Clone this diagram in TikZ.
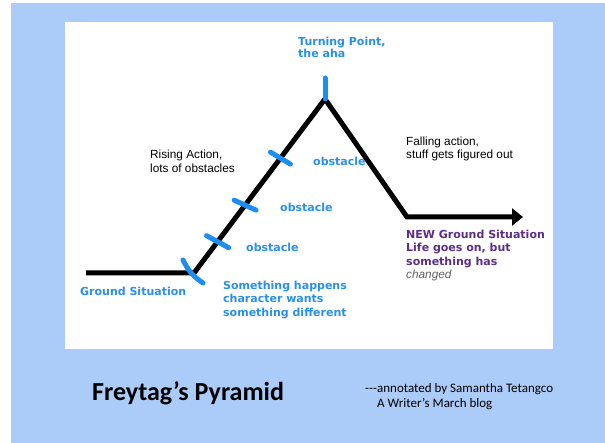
\documentclass[tikz,border=0pt]{standalone}
\usepackage{fontspec}
\setmainfont{Liberation Sans}
\newfontfamily\annofont{DejaVu Sans}
\newfontfamily\titlefont{Carlito}
\usetikzlibrary{arrows.meta}
\definecolor{panelblue}{HTML}{ABCBF8}
\definecolor{tickblue}{HTML}{1C8EF2}
\definecolor{labelblue}{HTML}{2A90E6}
\definecolor{newpurple}{HTML}{5C2E86}
\definecolor{changedgray}{HTML}{606060}

\begin{document}
\begin{tikzpicture}[
        x=1pt, y=-1pt,
        plot/.style={line width=5pt, line join=miter},
        tick/.style={line width=5pt, draw=tickblue, line cap=round},
        bluelabel/.style={font=\annofont\bfseries\fontsize{11}{13.5}\selectfont, text=labelblue, anchor=north west, inner sep=0pt, align=left},
        note/.style={font=\fontsize{11.8}{13}\selectfont, anchor=north west, inner sep=0pt, align=left}
    ]
        % background panels
        \fill[white] (0,0) rectangle (605,443);
        \useasboundingbox (0,0) rectangle (605,443);
        \fill[panelblue] (11,3) rectangle (605,443);
        \fill[white] (65,22) rectangle (553,349);

        % the pyramid
        \coordinate (start) at (86,273);
        \coordinate (base) at (194,273);
        \coordinate (peak) at (325,99);
        \coordinate (drop) at (407,217);
        \coordinate (end) at (523,217);
        \draw[plot, -{Triangle[length=11pt,width=17pt]}] (start) -- (base) -- (peak) -- (drop) -- (end);

        \path (base) -- (peak)
            coordinate[pos=0.18] (ob1)
            coordinate[pos=0.39] (ob2)
            coordinate[pos=0.66] (ob3);

        % blue marks
        \draw[tick] ([shift={(-11,-13)}]base) to[bend right=15] ([shift={(9,10)}]base);
        \draw[tick] ([shift={(-11,-6)}]ob1) -- ([shift={(11,6)}]ob1);
        \draw[tick] ([shift={(-11,-5)}]ob2) -- ([shift={(11,5)}]ob2);
        \draw[tick] ([shift={(-10,-6)}]ob3) -- ([shift={(10,6)}]ob3);
        \draw[tick] ([shift={(0,-21)}]peak) -- (peak);

        % labels
        \node (turning) [bluelabel, font=\annofont\bfseries\fontsize{11}{12}\selectfont] at (298,37) {Turning Point,\\the aha};
        \node (rising) [note, font=\fontsize{11.8}{14}\selectfont] at (150,150) {Rising Action,\\lots of obstacles};
        \node (falling) [note, font=\fontsize{11.8}{12.5}\selectfont] at (406,137) {Falling action,\\stuff gets figured out};
        \node (obs3) [bluelabel] at (313,156.5) {obstacle};
        \node (obs2) [bluelabel] at (280,202.5) {obstacle};
        \node (obs1) [bluelabel] at (246,242.5) {obstacle};
        \node (ground) [bluelabel] at (80,286.5) {Ground Situation};
        \node (happens) [bluelabel] at (223,280.5) {Something happens\\character wants\\something different};
        \node (newground) [bluelabel, text=newpurple] at (406,229.5)
            {NEW Ground Situation\\Life goes on, but\\something has\\{\normalfont\itshape\fontsize{11.8}{13.5}\selectfont\color{changedgray}changed}};

        % caption
        \node (title) [anchor=west, inner sep=0pt, font=\titlefont\bfseries\fontsize{26}{30}\selectfont] at (92,393) {Freytag’s Pyramid};
        \node (credit) [anchor=north west, inner sep=0pt, align=left, font=\titlefont\fontsize{13}{15}\selectfont] at (365,383.5)
            {{-}{-}{-}annotated by Samantha Tetangco\\\hspace*{12pt}A Writer’s March blog};
    \end{tikzpicture}
\end{document}
